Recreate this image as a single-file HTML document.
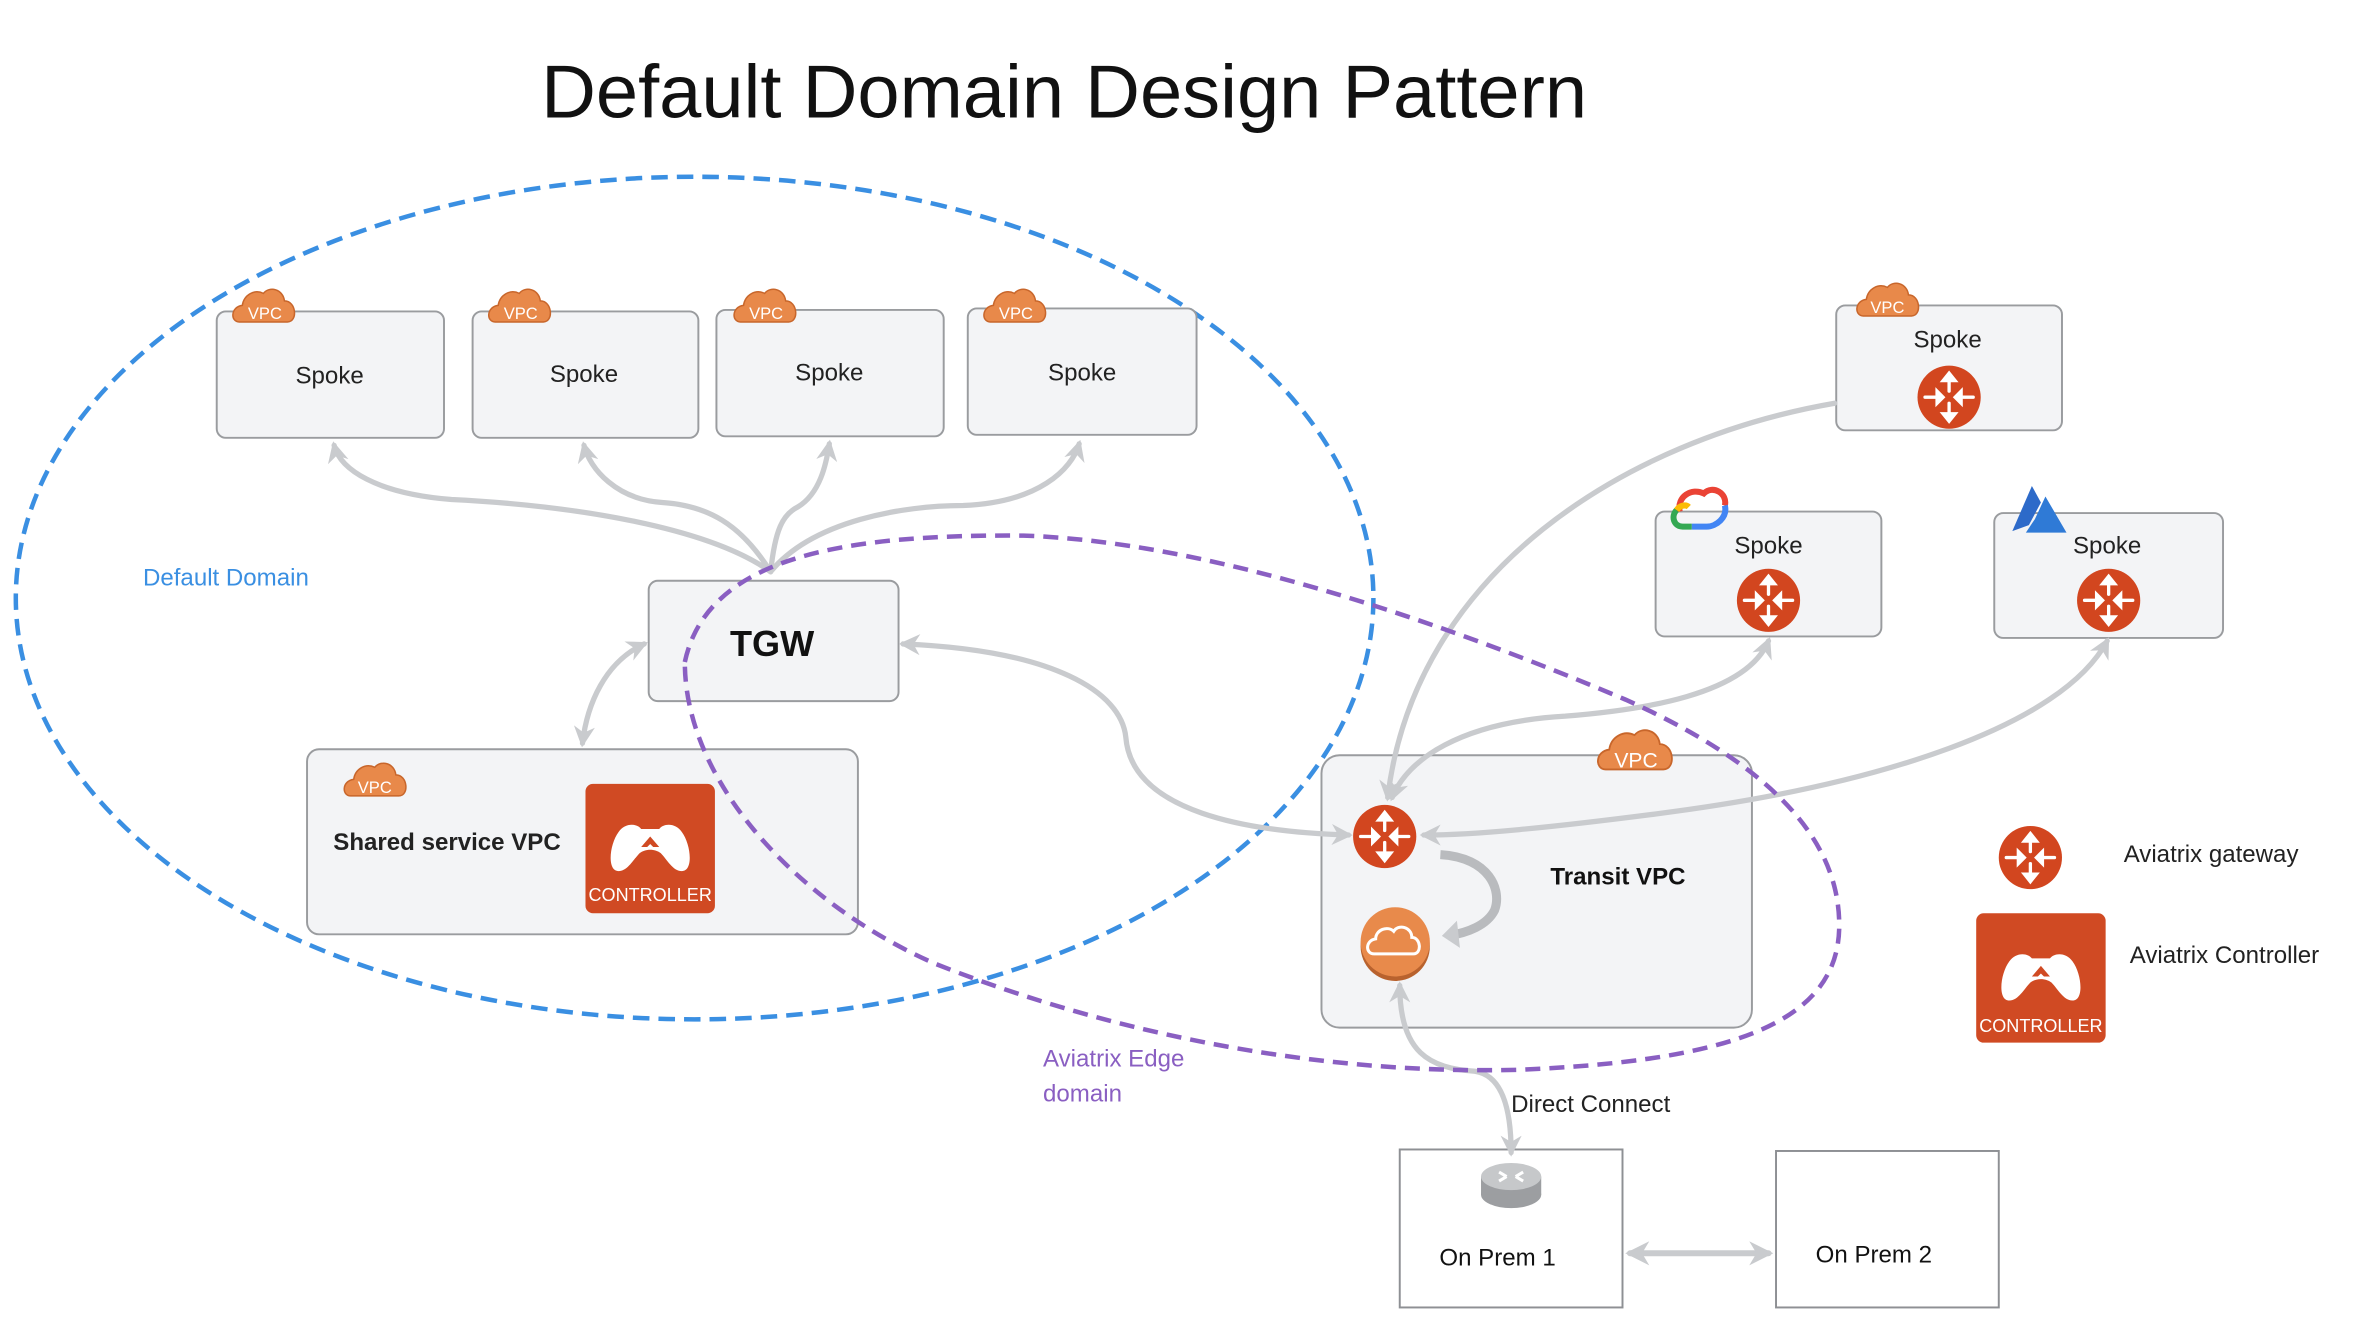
<!DOCTYPE html>
<html><head><meta charset="utf-8"><style>
html,body{margin:0;padding:0;background:#fff;}
svg{display:block;}
text{font-family:"Liberation Sans","DejaVu Sans",sans-serif;}
</style></head><body>
<svg width="2360" height="1324" viewBox="0 0 1568 880" preserveAspectRatio="none" xmlns="http://www.w3.org/2000/svg">
<defs>
<marker id="ah" viewBox="0 0 10 10" refX="8" refY="5" markerWidth="4" markerHeight="4" orient="auto-start-reverse" markerUnits="strokeWidth">
<path d="M0 0 L10 5 L0 10 L3 5 z" fill="#c9cbce"/></marker>
<g id="gw">
<circle r="21" fill="#d2461f"/>
<g fill="#fff" stroke="#fff" stroke-width="2.2" stroke-linecap="round">
<path d="M0 -4 L0 -13" fill="none"/><path d="M-4 -11 L0 -16 L4 -11 z"/>
<path d="M0 4 L0 13" fill="none"/><path d="M-4 11 L0 16 L4 11 z"/>
<path d="M-16 0 L-8 0" fill="none"/><path d="M-8 -4 L-4 0 L-8 4 z"/>
<path d="M16 0 L8 0" fill="none"/><path d="M8 -4 L4 0 L8 4 z"/>
</g></g>
<g id="vpc">
<path d="M4 22 C-2 22 -2 12 6 11 C7 4 14 0 20 3 C24 -2 33 0 34 8 C42 8 43 22 36 22 z" fill="#e8894a" stroke="#c8662b" stroke-width="1"/>
</g>
<g id="ctrl">
<rect x="0" y="0" width="86" height="86" rx="5" fill="#d04a23"/>
<path d="M22 58 C14 58 16 40 22 32 C26 26 34 26 37 30 L49 30 C52 26 60 26 64 32 C70 40 72 58 64 58 C58 58 54 50 50 46 C46 43 40 43 36 46 C32 50 28 58 22 58 z" fill="#fff"/>
<path d="M37 42 L43 35 L49 42 L45 42 L43 40 L41 42 z" fill="#d04a23"/>
</g>
</defs>

<text x="707" y="78" font-size="50" text-anchor="middle" fill="#111" textLength="695" lengthAdjust="spacingAndGlyphs">Default Domain Design Pattern</text>

<ellipse cx="461.5" cy="397.5" rx="451" ry="280" fill="none" stroke="#3a8fe2" stroke-width="3" stroke-dasharray="11 6"/>

<g fill="#f3f4f6" stroke="#9a9c9f" stroke-width="1.3">
<rect x="144" y="207" width="151" height="84" rx="6"/>
<rect x="314" y="207" width="150" height="84" rx="6"/>
<rect x="476" y="206" width="151" height="84" rx="6"/>
<rect x="643" y="205" width="152" height="84" rx="6"/>
<rect x="431" y="386" width="166" height="80" rx="6"/>
<rect x="204" y="498" width="366" height="123" rx="8"/>
<rect x="1220" y="203" width="150" height="83" rx="6"/>
<rect x="1100" y="340" width="150" height="83" rx="6"/>
<rect x="1325" y="341" width="152" height="83" rx="6"/>
<rect x="878" y="502" width="286" height="181" rx="12"/>
</g>
<g fill="#fff" stroke="#8e9094" stroke-width="1.3">
<rect x="930" y="764" width="148" height="105"/>
<rect x="1180" y="765" width="148" height="104"/>
</g>

<g fill="none" stroke="#c9cbce" stroke-width="3.5" stroke-linecap="round">
<path d="M512 380 C470 350 380 336 300 332 C250 328 226 312 222 296" marker-end="url(#ah)"/>
<path d="M512 380 C492 348 470 336 440 334 C410 332 392 312 388 296" marker-end="url(#ah)"/>
<path d="M512 380 C515 352 520 342 530 337 C545 328 549 308 551 295" marker-end="url(#ah)"/>
<path d="M512 380 C540 346 600 336 640 336 C690 334 712 312 717 295" marker-end="url(#ah)"/>
<path d="M428 428 C402 440 390 468 387 494" marker-start="url(#ah)" marker-end="url(#ah)"/>
<path d="M600 428 C700 432 745 460 748 490 C752 540 830 553 896 555" marker-start="url(#ah)" marker-end="url(#ah)"/>
<path d="M1219 268 C1080 292 940 380 922 530" marker-end="url(#ah)"/>
<path d="M1175 426 C1160 462 1090 472 1040 476 C970 480 935 505 925 530" marker-start="url(#ah)" marker-end="url(#ah)"/>
<path d="M1400 426 C1370 482 1250 522 1100 541 C1030 550 980 555 946 555" marker-start="url(#ah)" marker-end="url(#ah)"/>
<path d="M930 655 C930 700 950 710 980 712 C1000 715 1004 742 1004 766" marker-start="url(#ah)" marker-end="url(#ah)"/>
<path d="M1083 833 L1175 833" stroke-width="4" marker-start="url(#ah)" marker-end="url(#ah)"/>
</g>
<path d="M957 568 C990 570 998 592 993 605 C988 615 975 620 962 622" fill="none" stroke="#b9bbbe" stroke-width="6"/>
<path d="M958 622 L968 612 L970 630 z" fill="#c9cbce"/>

<path d="M455 440 C470 370 560 355 680 356 C800 360 950 410 1080 465 C1180 510 1222 560 1222 615 C1222 680 1150 705 1010 711 C860 715 720 680 620 640 C530 600 455 520 455 440 z" fill="none" stroke="#8a5fc2" stroke-width="3" stroke-dasharray="10 6"/>

<use href="#vpc" x="155" y="192"/><text x="176" y="212" font-size="11" fill="#fff" text-anchor="middle">VPC</text>
<use href="#vpc" x="325" y="192"/><text x="346" y="212" font-size="11" fill="#fff" text-anchor="middle">VPC</text>
<use href="#vpc" x="488" y="192"/><text x="509" y="212" font-size="11" fill="#fff" text-anchor="middle">VPC</text>
<use href="#vpc" x="654" y="192"/><text x="675" y="212" font-size="11" fill="#fff" text-anchor="middle">VPC</text>
<use href="#vpc" x="229" y="507"/><text x="249" y="527" font-size="11" fill="#fff" text-anchor="middle">VPC</text>
<use href="#vpc" x="1234" y="188"/><text x="1254" y="208" font-size="11" fill="#fff" text-anchor="middle">VPC</text>
<g transform="translate(1062,485) scale(1.2)"><use href="#vpc"/></g><text x="1087" y="510" font-size="14" fill="#fff" text-anchor="middle">VPC</text>

<g font-size="16" fill="#222" text-anchor="middle">
<text x="219" y="255">Spoke</text><text x="388" y="254">Spoke</text><text x="551" y="253">Spoke</text><text x="719" y="253">Spoke</text>
<text x="1294" y="231">Spoke</text><text x="1175" y="368">Spoke</text><text x="1400" y="368">Spoke</text>
</g>
<text x="513" y="436" font-size="24" font-weight="bold" text-anchor="middle" fill="#111">TGW</text>
<text x="297" y="565" font-size="16" font-weight="bold" text-anchor="middle" fill="#222">Shared service VPC</text>
<text x="1075" y="588" font-size="16" font-weight="bold" text-anchor="middle" fill="#111">Transit VPC</text>
<text x="95" y="389" font-size="16" fill="#3a8fe2">Default Domain</text>
<text x="693" y="709" font-size="16" fill="#8a5fc2">Aviatrix Edge</text>
<text x="693" y="732" font-size="16" fill="#8a5fc2">domain</text>
<text x="1004" y="739" font-size="16" fill="#222">Direct Connect</text>
<text x="995" y="841" font-size="16" fill="#111" text-anchor="middle">On Prem 1</text>
<text x="1245" y="839" font-size="16" fill="#111" text-anchor="middle">On Prem 2</text>
<text x="1411" y="573" font-size="16" fill="#222">Aviatrix gateway</text>
<text x="1415" y="640" font-size="16" fill="#222">Aviatrix Controller</text>

<use href="#ctrl" x="389" y="521"/><text x="432" y="599" font-size="12" fill="#fff" text-anchor="middle">CONTROLLER</text>
<use href="#ctrl" x="1313" y="607"/><text x="1356" y="686" font-size="12" fill="#fff" text-anchor="middle">CONTROLLER</text>

<use href="#gw" x="1295" y="264"/><use href="#gw" x="1175" y="399"/><use href="#gw" x="1401" y="399"/>
<use href="#gw" x="920" y="556"/><use href="#gw" x="1349" y="570"/>

<circle cx="927" cy="629" r="23" fill="#b8622e"/>
<circle cx="927" cy="626" r="23" fill="#e88a4b"/>
<path d="M913 634 C907 634 907 625 914 624 C914 618 922 615 926 619 C929 614 938 616 938 623 C944 623 945 634 939 634 z" fill="none" stroke="#fff" stroke-width="2"/>

<path d="M1116 340 C1114 330 1124 324 1132 328 C1138 322 1148 328 1146 336" fill="none" stroke="#ea4335" stroke-width="4"/>
<path d="M1146 336 C1148 344 1140 350 1134 350 L1124 350" fill="none" stroke="#4285f4" stroke-width="4"/>
<path d="M1124 350 L1118 350 C1112 350 1110 343 1114 339" fill="none" stroke="#34a853" stroke-width="4"/>
<path d="M1114 339 C1116 336 1120 335 1122 337" fill="none" stroke="#fbbc05" stroke-width="4"/>

<path d="M1337 353 L1350 323 L1356 334 L1348 349 z" fill="#2d6ac9"/>
<path d="M1352 345 L1359 330 L1373 354 L1346 354 z" fill="#2f7ad6"/>

<ellipse cx="1004" cy="794" rx="20" ry="9" fill="#9c9ea1"/>
<rect x="984" y="782" width="40" height="12" fill="#9c9ea1"/>
<ellipse cx="1004" cy="782" rx="20" ry="9" fill="#c6c8ca"/>
<g stroke="#fff" stroke-width="2"><path d="M996 779 L1001 782 M1012 779 L1007 782 M996 785 L1001 782 M1012 785 L1007 782"/></g>
</svg>
</body></html>
